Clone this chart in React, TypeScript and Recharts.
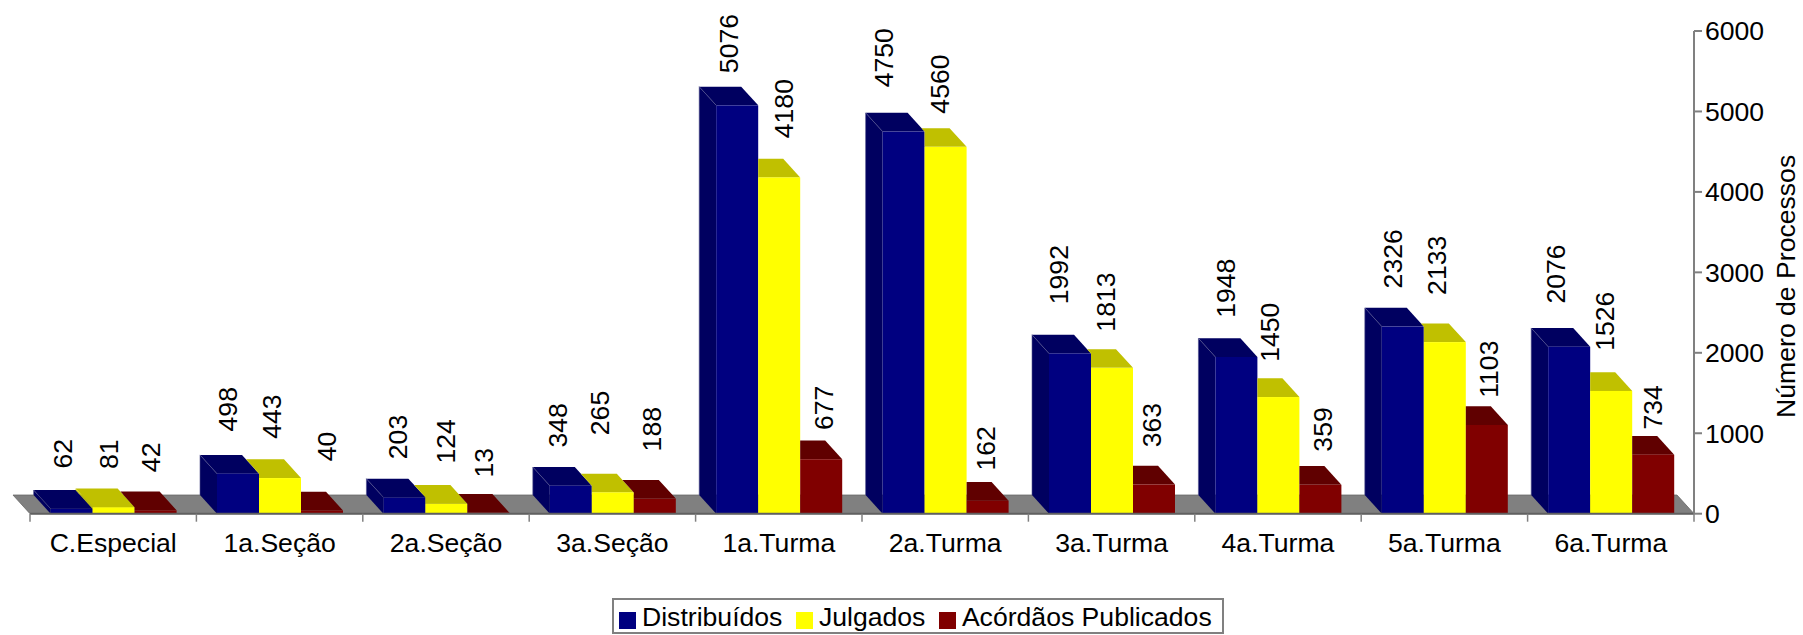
import { BarChart, Bar, XAxis, YAxis, Legend, LabelList, ReferenceArea } from "recharts";

const categories = ["C.Especial", "1a.Seção", "2a.Seção", "3a.Seção", "1a.Turma", "2a.Turma", "3a.Turma", "4a.Turma", "5a.Turma", "6a.Turma"];
const distribuidos = [62, 498, 203, 348, 5076, 4750, 1992, 1948, 2326, 2076];
const julgados = [81, 443, 124, 265, 4180, 4560, 1813, 1450, 2133, 1526];
const publicados = [42, 40, 13, 188, 677, 162, 363, 359, 1103, 734];
const yTicks = [0, 1000, 2000, 3000, 4000, 5000, 6000];

// the value labels sit unevenly in the original, so each one gets its own nudge
const distribuidosDx = [-9, -10, -6, -13, -8, -20, -11, -10, -10, -13];
const distribuidosGap = [24, 26, 22, 22, 16, 28, 33, 23, 22, 27];
const julgadosDx = [-5, -8, 0, -13, 5, -6, -6, -8, -8, -6];
const julgadosGap = [22, 23, 24, 41, 23, 17, 20, 19, 31, 24];
const publicadosDx = [-5, 5, -4, -3, 3, -2, -2, 3, 2, 0];
const publicadosGap = [22, 33, 19, 31, 13, 14, 21, 17, 11, 9];

const data = categories.map((name, i) => ({
  name,
  distribuidos: distribuidos[i],
  julgados: julgados[i],
  publicados: publicados[i],
}));

const FONT = "'Liberation Sans', Arial, sans-serif";
const FONT_SIZE = 26.6;
const AXIS = "#808080";
const DX = 17;
const DY = 18.7;
const BAND = 166.4;

// fake 3D box: the taller neighbour on the left hides part of the side and top
function box3d(front: string, dark: string, edge: string, prev?: number[]) {
  return (p: any) => {
    const { x, y, width, height, index, value } = p;
    const v = Array.isArray(value) ? value[1] : value;
    const base = y + height;
    const x1 = x + width;
    const yBack = y - DY;
    const prevTop = prev ? base - (height * prev[index]) / v : base;
    const hidden = prev && prevTop <= y;
    let top = `${x},${y} ${x1},${y} ${x1 - DX},${yBack} ${x - DX},${yBack}`;
    if (hidden) {
      top =
        yBack >= prevTop
          ? `${x},${y} ${x1},${y} ${x1 - DX},${yBack} ${x},${yBack}`
          : `${x},${y} ${x1},${y} ${x1 - DX},${yBack} ${x - ((prevTop - yBack) * DX) / DY},${yBack} ${x},${prevTop}`;
    }
    return (
      <g>
        {!hidden && (
          <polygon
            points={`${x - DX},${yBack} ${x},${y} ${x},${prevTop} ${x - DX},${prevTop - DY}`}
            fill={dark}
          />
        )}
        <polygon points={top} fill={dark} />
        <rect x={x} y={y} width={width} height={height} fill={front} />
        {!prev && (
          <>
            <line x1={x - DX} y1={yBack} x2={x} y2={y} stroke={edge} strokeWidth={0.6} />
            <line x1={x - DX} y1={yBack} x2={x - DX} y2={base - DY} stroke={edge} strokeWidth={0.6} />
          </>
        )}
      </g>
    );
  };
}

function valueLabel(dx: number[], gap: number[]) {
  return (p: any) => {
    const { x, y, width, value, index } = p;
    const cx = x + width / 2 + dx[index];
    const by = y - DY - gap[index] + 2.5;
    return (
      <text
        x={cx}
        y={by}
        transform={`rotate(-90 ${cx} ${by})`}
        textAnchor="start"
        dominantBaseline="central"
        fontSize={FONT_SIZE}
        fontFamily={FONT}
        fill="#000"
      >
        {value}
      </text>
    );
  };
}

function CategoryTick(p: any) {
  const { x, y, payload, index } = p;
  const left = x - BAND / 2;
  return (
    <g>
      <line x1={left} y1={y} x2={left} y2={y + 8} stroke={AXIS} strokeWidth={1.5} />
      {index === categories.length - 1 && (
        <line x1={left + BAND} y1={y} x2={left + BAND} y2={y + 8} stroke={AXIS} strokeWidth={1.5} />
      )}
      <text x={x} y={y + 38} textAnchor="middle" fontSize={FONT_SIZE} fontFamily={FONT} fill="#000">
        {payload.value}
      </text>
    </g>
  );
}

function Floor(p: any) {
  const { x, y, width, height } = p;
  const b = y + height;
  return (
    <polygon
      points={`${x},${b} ${x + width},${b} ${x + width - DX},${y} ${x - DX},${y}`}
      fill="#808080"
      stroke="#666"
      strokeWidth={0.8}
    />
  );
}

export default function App() {
  return (
    <div style={{ position: "absolute", left: 0, top: 0, width: 1803, height: 635, background: "#fff" }}>
      <BarChart
        width={1803}
        height={635}
        data={data}
        margin={{ top: 31, right: 0, bottom: 0, left: 30 }}
        barCategoryGap={20.6}
        barGap={0}
      >
        <XAxis
          dataKey="name"
          height={85.3}
          interval={0}
          stroke="#606060"
          strokeWidth={2}
          tickLine={false}
          tickSize={0}
          tickMargin={0}
          tick={CategoryTick}
        />
        <YAxis
          orientation="right"
          width={109}
          domain={[0, 6000]}
          ticks={yTicks}
          interval={0}
          stroke={AXIS}
          strokeWidth={2}
          tickSize={8}
          tickMargin={3}
          tick={{ fontSize: FONT_SIZE, fontFamily: FONT, fill: "#000" }}
          label={{
            value: "Número de Processos",
            angle: -90,
            position: "center",
            dx: 37,
            dy: 14,
            style: { fontSize: FONT_SIZE, fontFamily: FONT, fill: "#000" },
          }}
        />
        <ReferenceArea y1={0} y2={232} shape={Floor} />
        <Bar dataKey="distribuidos" name="Distribuídos" fill="#000080" isAnimationActive={false} shape={box3d("#000080", "#000060", "#55558f")}>
          <LabelList dataKey="distribuidos" content={valueLabel(distribuidosDx, distribuidosGap)} />
        </Bar>
        <Bar dataKey="julgados" name="Julgados" fill="#ffff00" isAnimationActive={false} shape={box3d("#ffff00", "#c0c000", "#c0c000", distribuidos)}>
          <LabelList dataKey="julgados" content={valueLabel(julgadosDx, julgadosGap)} />
        </Bar>
        <Bar dataKey="publicados" name="Acórdãos Publicados" fill="#800000" isAnimationActive={false} shape={box3d("#800000", "#600000", "#600000", julgados)}>
          <LabelList dataKey="publicados" content={valueLabel(publicadosDx, publicadosGap)} />
        </Bar>
        <Legend
          iconType="square"
          iconSize={17}
          itemSorter={null}
          formatter={(v: string) => (
            <span style={{ color: "#000", fontSize: FONT_SIZE, fontFamily: FONT, marginLeft: 2, marginRight: 3.5, position: "relative", top: 2 }}>{v}</span>
          )}
          wrapperStyle={{
            position: "absolute",
            left: 612,
            top: 598,
            width: 612,
            height: 36,
            bottom: "auto",
            boxSizing: "border-box",
            border: "2px solid #808080",
            paddingLeft: 5,
            lineHeight: "30px",
            whiteSpace: "nowrap",
          }}
        />
      </BarChart>
    </div>
  );
}
